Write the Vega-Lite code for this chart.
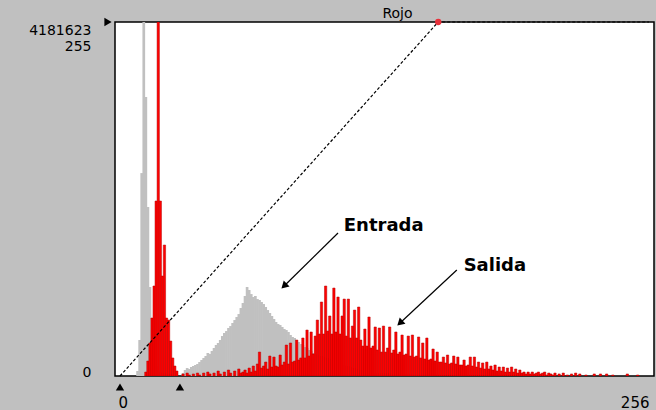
{
  "$schema": "https://vega.github.io/schema/vega-lite/v6.json",
  "autosize": "none",
  "width": 539,
  "height": 354,
  "padding": {"left": 115, "top": 22, "right": 2, "bottom": 34},
  "background": "#c0c0c0",
  "config": {
    "view": {"fill": "white", "stroke": "black", "strokeWidth": 1.5},
    "text": {"font": "DejaVu Sans"}
  },
  "title": {"text": "Rojo", "font": "DejaVu Sans", "fontSize": 14, "fontWeight": "normal", "color": "black", "offset": 4, "dx": 13, "dy": 7, "anchor": "middle", "frame": "group"},
  "datasets": {
    "entrada": [
      {"nivel": 8, "miles": 59}, {"nivel": 9, "miles": 425}, {"nivel": 10, "miles": 2397}, {"nivel": 11, "miles": 4181.623},
      {"nivel": 12, "miles": 3295}, {"nivel": 13, "miles": 1996}, {"nivel": 14, "miles": 1051}, {"nivel": 15, "miles": 531},
      {"nivel": 16, "miles": 236}, {"nivel": 17, "miles": 118}, {"nivel": 18, "miles": 71}, {"nivel": 19, "miles": 47},
      {"nivel": 20, "miles": 35}, {"nivel": 21, "miles": 35}, {"nivel": 22, "miles": 24}, {"nivel": 23, "miles": 24},
      {"nivel": 24, "miles": 24}, {"nivel": 25, "miles": 12}, {"nivel": 26, "miles": 12},
      {"nivel": 30, "miles": 35}, {"nivel": 31, "miles": 71}, {"nivel": 32, "miles": 94}, {"nivel": 33, "miles": 83},
      {"nivel": 34, "miles": 106}, {"nivel": 35, "miles": 118}, {"nivel": 36, "miles": 130}, {"nivel": 37, "miles": 142},
      {"nivel": 38, "miles": 165}, {"nivel": 39, "miles": 189}, {"nivel": 40, "miles": 213}, {"nivel": 41, "miles": 236},
      {"nivel": 42, "miles": 272}, {"nivel": 43, "miles": 260}, {"nivel": 44, "miles": 295}, {"nivel": 45, "miles": 331},
      {"nivel": 46, "miles": 366}, {"nivel": 47, "miles": 390}, {"nivel": 48, "miles": 425}, {"nivel": 49, "miles": 472},
      {"nivel": 50, "miles": 508}, {"nivel": 51, "miles": 531}, {"nivel": 52, "miles": 567}, {"nivel": 53, "miles": 590},
      {"nivel": 54, "miles": 626}, {"nivel": 55, "miles": 661}, {"nivel": 56, "miles": 697}, {"nivel": 57, "miles": 732},
      {"nivel": 58, "miles": 803}, {"nivel": 59, "miles": 862}, {"nivel": 60, "miles": 945}, {"nivel": 61, "miles": 1051},
      {"nivel": 62, "miles": 1016}, {"nivel": 63, "miles": 968}, {"nivel": 64, "miles": 933}, {"nivel": 65, "miles": 945},
      {"nivel": 66, "miles": 909}, {"nivel": 67, "miles": 898}, {"nivel": 68, "miles": 874}, {"nivel": 69, "miles": 850},
      {"nivel": 70, "miles": 815}, {"nivel": 71, "miles": 779}, {"nivel": 72, "miles": 744}, {"nivel": 73, "miles": 709},
      {"nivel": 74, "miles": 673}, {"nivel": 75, "miles": 638}, {"nivel": 76, "miles": 614}, {"nivel": 77, "miles": 602},
      {"nivel": 78, "miles": 579}, {"nivel": 79, "miles": 555}, {"nivel": 80, "miles": 543}, {"nivel": 81, "miles": 520},
      {"nivel": 82, "miles": 484}, {"nivel": 83, "miles": 461}, {"nivel": 84, "miles": 449}, {"nivel": 85, "miles": 425},
      {"nivel": 86, "miles": 402}, {"nivel": 87, "miles": 378}, {"nivel": 88, "miles": 366}, {"nivel": 89, "miles": 342},
      {"nivel": 90, "miles": 331}, {"nivel": 91, "miles": 307}, {"nivel": 92, "miles": 295}, {"nivel": 93, "miles": 272},
      {"nivel": 94, "miles": 260}, {"nivel": 95, "miles": 248}, {"nivel": 96, "miles": 236}, {"nivel": 97, "miles": 236},
      {"nivel": 98, "miles": 224}, {"nivel": 99, "miles": 213}, {"nivel": 100, "miles": 213}, {"nivel": 101, "miles": 201},
      {"nivel": 102, "miles": 201}, {"nivel": 103, "miles": 189}, {"nivel": 104, "miles": 177}, {"nivel": 105, "miles": 165},
      {"nivel": 106, "miles": 154}, {"nivel": 107, "miles": 142}, {"nivel": 108, "miles": 130}, {"nivel": 109, "miles": 118},
      {"nivel": 110, "miles": 118}, {"nivel": 111, "miles": 106}, {"nivel": 112, "miles": 94}, {"nivel": 113, "miles": 94},
      {"nivel": 114, "miles": 83}, {"nivel": 115, "miles": 71}, {"nivel": 116, "miles": 71}, {"nivel": 117, "miles": 59},
      {"nivel": 118, "miles": 59}, {"nivel": 119, "miles": 47}, {"nivel": 120, "miles": 47}, {"nivel": 121, "miles": 47},
      {"nivel": 122, "miles": 35}, {"nivel": 123, "miles": 35}, {"nivel": 124, "miles": 35}, {"nivel": 125, "miles": 35},
      {"nivel": 126, "miles": 35}, {"nivel": 127, "miles": 35}, {"nivel": 128, "miles": 35}, {"nivel": 129, "miles": 35},
      {"nivel": 130, "miles": 35}, {"nivel": 131, "miles": 24}, {"nivel": 132, "miles": 24}, {"nivel": 133, "miles": 24},
      {"nivel": 134, "miles": 24}, {"nivel": 135, "miles": 24}, {"nivel": 136, "miles": 24}, {"nivel": 137, "miles": 24},
      {"nivel": 138, "miles": 24}, {"nivel": 139, "miles": 24}, {"nivel": 140, "miles": 24}, {"nivel": 141, "miles": 12},
      {"nivel": 142, "miles": 12}, {"nivel": 143, "miles": 12}, {"nivel": 144, "miles": 12}, {"nivel": 145, "miles": 12},
      {"nivel": 146, "miles": 12}, {"nivel": 147, "miles": 12}, {"nivel": 148, "miles": 12}, {"nivel": 149, "miles": 12},
      {"nivel": 150, "miles": 12}
    ],
    "salida": [
      {"nivel": 12, "miles": 47}, {"nivel": 13, "miles": 177}, {"nivel": 14, "miles": 390}, {"nivel": 15, "miles": 685},
      {"nivel": 16, "miles": 1063}, {"nivel": 17, "miles": 2067}, {"nivel": 18, "miles": 4181.623}, {"nivel": 19, "miles": 2067},
      {"nivel": 20, "miles": 1181}, {"nivel": 21, "miles": 1547}, {"nivel": 22, "miles": 685}, {"nivel": 23, "miles": 661},
      {"nivel": 24, "miles": 413}, {"nivel": 25, "miles": 213}, {"nivel": 26, "miles": 118}, {"nivel": 27, "miles": 59},
      {"nivel": 30, "miles": 24}, {"nivel": 32, "miles": 35}, {"nivel": 33, "miles": 12}, {"nivel": 35, "miles": 24},
      {"nivel": 37, "miles": 35}, {"nivel": 38, "miles": 12}, {"nivel": 40, "miles": 35}, {"nivel": 42, "miles": 47},
      {"nivel": 43, "miles": 24}, {"nivel": 45, "miles": 35}, {"nivel": 47, "miles": 59}, {"nivel": 48, "miles": 24},
      {"nivel": 50, "miles": 47}, {"nivel": 52, "miles": 71}, {"nivel": 53, "miles": 35}, {"nivel": 55, "miles": 59},
      {"nivel": 57, "miles": 83}, {"nivel": 58, "miles": 35}, {"nivel": 59, "miles": 47}, {"nivel": 60, "miles": 71},
      {"nivel": 61, "miles": 35}, {"nivel": 62, "miles": 94}, {"nivel": 63, "miles": 47}, {"nivel": 64, "miles": 118},
      {"nivel": 65, "miles": 59}, {"nivel": 66, "miles": 142}, {"nivel": 67, "miles": 283}, {"nivel": 68, "miles": 94},
      {"nivel": 69, "miles": 118}, {"nivel": 70, "miles": 165}, {"nivel": 71, "miles": 83}, {"nivel": 72, "miles": 236},
      {"nivel": 73, "miles": 106}, {"nivel": 74, "miles": 224}, {"nivel": 75, "miles": 118}, {"nivel": 76, "miles": 106},
      {"nivel": 77, "miles": 248}, {"nivel": 78, "miles": 130}, {"nivel": 79, "miles": 165}, {"nivel": 80, "miles": 366},
      {"nivel": 81, "miles": 142}, {"nivel": 82, "miles": 390}, {"nivel": 83, "miles": 165}, {"nivel": 84, "miles": 177},
      {"nivel": 85, "miles": 425}, {"nivel": 86, "miles": 189}, {"nivel": 87, "miles": 213}, {"nivel": 88, "miles": 449},
      {"nivel": 89, "miles": 213}, {"nivel": 90, "miles": 543}, {"nivel": 91, "miles": 236}, {"nivel": 92, "miles": 520},
      {"nivel": 93, "miles": 260}, {"nivel": 94, "miles": 472}, {"nivel": 95, "miles": 661}, {"nivel": 96, "miles": 496},
      {"nivel": 97, "miles": 874}, {"nivel": 98, "miles": 496}, {"nivel": 99, "miles": 1063}, {"nivel": 100, "miles": 531},
      {"nivel": 101, "miles": 709}, {"nivel": 102, "miles": 496}, {"nivel": 103, "miles": 1039}, {"nivel": 104, "miles": 520},
      {"nivel": 105, "miles": 933}, {"nivel": 106, "miles": 496}, {"nivel": 107, "miles": 709}, {"nivel": 108, "miles": 909},
      {"nivel": 109, "miles": 472}, {"nivel": 110, "miles": 909}, {"nivel": 111, "miles": 449}, {"nivel": 112, "miles": 590},
      {"nivel": 113, "miles": 779}, {"nivel": 114, "miles": 449}, {"nivel": 115, "miles": 815}, {"nivel": 116, "miles": 425},
      {"nivel": 117, "miles": 354}, {"nivel": 118, "miles": 555}, {"nivel": 119, "miles": 354}, {"nivel": 120, "miles": 697},
      {"nivel": 121, "miles": 331}, {"nivel": 122, "miles": 354}, {"nivel": 123, "miles": 579}, {"nivel": 124, "miles": 307},
      {"nivel": 125, "miles": 567}, {"nivel": 126, "miles": 283}, {"nivel": 127, "miles": 590}, {"nivel": 128, "miles": 283},
      {"nivel": 129, "miles": 331}, {"nivel": 130, "miles": 579}, {"nivel": 131, "miles": 272}, {"nivel": 132, "miles": 307},
      {"nivel": 133, "miles": 520}, {"nivel": 134, "miles": 260}, {"nivel": 135, "miles": 283}, {"nivel": 136, "miles": 484},
      {"nivel": 137, "miles": 248}, {"nivel": 138, "miles": 260}, {"nivel": 139, "miles": 472}, {"nivel": 140, "miles": 236},
      {"nivel": 141, "miles": 484}, {"nivel": 142, "miles": 224}, {"nivel": 143, "miles": 236}, {"nivel": 144, "miles": 461},
      {"nivel": 145, "miles": 213}, {"nivel": 146, "miles": 390}, {"nivel": 147, "miles": 201}, {"nivel": 148, "miles": 449},
      {"nivel": 149, "miles": 189}, {"nivel": 150, "miles": 201}, {"nivel": 151, "miles": 319}, {"nivel": 152, "miles": 177},
      {"nivel": 153, "miles": 283}, {"nivel": 154, "miles": 165}, {"nivel": 155, "miles": 165}, {"nivel": 156, "miles": 224},
      {"nivel": 157, "miles": 154}, {"nivel": 158, "miles": 248}, {"nivel": 159, "miles": 142}, {"nivel": 160, "miles": 154},
      {"nivel": 161, "miles": 236}, {"nivel": 162, "miles": 142}, {"nivel": 163, "miles": 224}, {"nivel": 164, "miles": 130},
      {"nivel": 165, "miles": 130}, {"nivel": 166, "miles": 189}, {"nivel": 167, "miles": 118}, {"nivel": 168, "miles": 130},
      {"nivel": 169, "miles": 224}, {"nivel": 170, "miles": 118}, {"nivel": 171, "miles": 224}, {"nivel": 172, "miles": 106},
      {"nivel": 173, "miles": 165}, {"nivel": 174, "miles": 94}, {"nivel": 175, "miles": 154}, {"nivel": 176, "miles": 83},
      {"nivel": 177, "miles": 165}, {"nivel": 178, "miles": 83}, {"nivel": 179, "miles": 118}, {"nivel": 180, "miles": 71},
      {"nivel": 181, "miles": 130}, {"nivel": 182, "miles": 59}, {"nivel": 183, "miles": 106}, {"nivel": 184, "miles": 59},
      {"nivel": 185, "miles": 106}, {"nivel": 186, "miles": 47}, {"nivel": 187, "miles": 94}, {"nivel": 188, "miles": 47},
      {"nivel": 189, "miles": 106}, {"nivel": 190, "miles": 47}, {"nivel": 191, "miles": 83}, {"nivel": 192, "miles": 35},
      {"nivel": 193, "miles": 71}, {"nivel": 194, "miles": 35}, {"nivel": 195, "miles": 47}, {"nivel": 196, "miles": 24},
      {"nivel": 197, "miles": 47}, {"nivel": 198, "miles": 24}, {"nivel": 199, "miles": 47}, {"nivel": 200, "miles": 24},
      {"nivel": 201, "miles": 35}, {"nivel": 202, "miles": 47}, {"nivel": 203, "miles": 24}, {"nivel": 204, "miles": 35},
      {"nivel": 205, "miles": 47}, {"nivel": 206, "miles": 12}, {"nivel": 207, "miles": 35}, {"nivel": 208, "miles": 24},
      {"nivel": 209, "miles": 12}, {"nivel": 210, "miles": 35}, {"nivel": 212, "miles": 24}, {"nivel": 214, "miles": 35},
      {"nivel": 216, "miles": 12}, {"nivel": 218, "miles": 24}, {"nivel": 220, "miles": 35}, {"nivel": 222, "miles": 24},
      {"nivel": 225, "miles": 12}, {"nivel": 229, "miles": 24}, {"nivel": 232, "miles": 24}, {"nivel": 235, "miles": 24},
      {"nivel": 238, "miles": 12}, {"nivel": 245, "miles": 24}, {"nivel": 250, "miles": 12}
    ]
  },
  "layer": [
    {
      "layer": [
        {
          "data": {"name": "entrada"},
          "mark": {"type": "bar", "color": "#c0c0c0", "width": 2.7, "xOffset": 1.05, "clip": true},
          "encoding": {
            "x": {"field": "nivel", "type": "quantitative", "scale": {"domain": [0, 256], "nice": false, "zero": false},
              "axis": {"values": [0, 256], "title": null, "ticks": false, "domain": false, "grid": false, "labelPadding": 19, "labelFont": "DejaVu Sans", "labelFontSize": 15, "labelColor": "black", "labelFlush": false,
                "labelAlign": {"condition": {"test": "datum.value >= 256", "value": "right"}, "value": "left"},
                "labelOffset": {"condition": {"test": "datum.value == 0", "value": -2}, "value": 0}}},
            "y": {"field": "miles", "type": "quantitative", "scale": {"domain": [0, 4181.623], "nice": false}, "axis": null}
          }
        },
        {
          "data": {"name": "salida"},
          "mark": {"type": "bar", "color": "#ff0000", "stroke": "#b40000", "strokeWidth": 0.5, "width": 2.3, "xOffset": 1.05, "clip": true},
          "encoding": {
            "x": {"field": "nivel", "type": "quantitative"},
            "y": {"field": "miles", "type": "quantitative", "scale": {"domain": [0, 4181.623], "nice": false}, "axis": null}
          }
        }
      ]
    },
    {
      "layer": [
        {
          "data": {"values": [{"nivel": 0, "valor": 0}, {"nivel": 154, "valor": 255}, {"nivel": 256, "valor": 255}]},
          "mark": {"type": "line", "color": "black", "strokeWidth": 1.2, "strokeDash": [3, 2]},
          "encoding": {
            "x": {"field": "nivel", "type": "quantitative"},
            "y": {"field": "valor", "type": "quantitative", "scale": {"domain": [0, 255], "nice": false},
              "axis": {"orient": "left", "values": [0, 255], "title": null, "ticks": false, "domain": false, "grid": false, "labelPadding": 24, "labelFont": "DejaVu Sans", "labelFontSize": 14, "labelColor": "black", "labelLineHeight": 16, "labelExpr": "datum.value == 255 ? ['4181623', '255'] : '0'", "labelOffset": {"condition": {"test": "datum.value == 255", "value": 8}, "value": -4}}}
          }
        },
        {
          "data": {"values": [{"nivel": 154, "valor": 255}]},
          "mark": {"type": "point", "filled": true, "color": "#e8303a", "size": 40, "opacity": 1},
          "encoding": {
            "x": {"field": "nivel", "type": "quantitative"},
            "y": {"field": "valor", "type": "quantitative"}
          }
        },
        {
          "data": {"values": [{"nivel": 105.5, "valor": 103, "nivel2": 79.8, "valor2": 65.4}, {"nivel": 163, "valor": 76.4, "nivel2": 135.9, "valor2": 38.7}]},
          "mark": {"type": "rule", "color": "black", "strokeWidth": 1.2},
          "encoding": {
            "x": {"field": "nivel", "type": "quantitative"},
            "y": {"field": "valor", "type": "quantitative"},
            "x2": {"field": "nivel2"},
            "y2": {"field": "valor2"}
          }
        },
        {
          "data": {"values": [{"nivel": 79.8, "valor": 65.4, "angulo": 226}, {"nivel": 135.9, "valor": 38.7, "angulo": 227}]},
          "mark": {"type": "point", "shape": "triangle", "filled": true, "color": "black", "size": 70, "opacity": 1},
          "encoding": {
            "x": {"field": "nivel", "type": "quantitative"},
            "y": {"field": "valor", "type": "quantitative"},
            "angle": {"field": "angulo", "type": "quantitative", "scale": null}
          }
        },
        {
          "data": {"values": [{"nivel": 108.3, "valor": 108.1, "texto": "Entrada"}, {"nivel": 166.3, "valor": 79.3, "texto": "Salida"}]},
          "mark": {"type": "text", "font": "DejaVu Sans", "fontWeight": "bold", "fontSize": 18, "align": "left", "baseline": "middle", "color": "black"},
          "encoding": {
            "x": {"field": "nivel", "type": "quantitative"},
            "y": {"field": "valor", "type": "quantitative"},
            "text": {"field": "texto"}
          }
        },
        {
          "data": {"values": [{"nivel": 0, "valor": 0}, {"nivel": 29, "valor": 0}]},
          "mark": {"type": "point", "shape": "triangle-up", "filled": true, "color": "black", "size": 70, "opacity": 1, "yOffset": 11},
          "encoding": {
            "x": {"field": "nivel", "type": "quantitative"},
            "y": {"field": "valor", "type": "quantitative"}
          }
        },
        {
          "data": {"values": [{"nivel": 0, "valor": 255}]},
          "mark": {"type": "point", "shape": "triangle-right", "filled": true, "color": "black", "size": 70, "opacity": 1, "xOffset": -12},
          "encoding": {
            "x": {"field": "nivel", "type": "quantitative"},
            "y": {"field": "valor", "type": "quantitative"}
          }
        }
      ]
    }
  ],
  "resolve": {"scale": {"y": "independent"}, "axis": {"y": "independent"}}
}
